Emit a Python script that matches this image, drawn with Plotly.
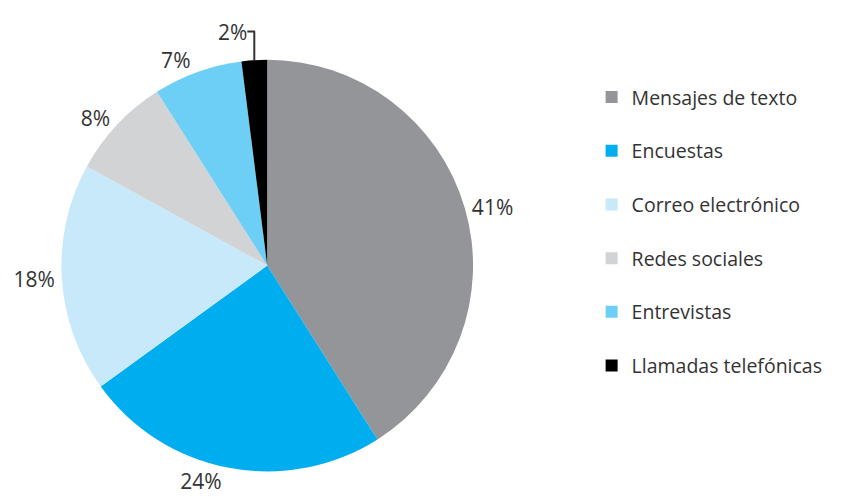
import plotly.graph_objects as go

categories = ["Mensajes de texto", "Encuestas", "Correo electrónico",
              "Redes sociales", "Entrevistas", "Llamadas telefónicas"]
percentages = [41, 24, 18, 8, 7, 2]
colors = ["#939598", "#00aeef", "#c8e9fa", "#d1d3d4", "#6dcff6", "#000000"]

# extra blank line gives the loose legend spacing of the original
legend_labels = [c + "<br> " for c in categories]

fig = go.Figure(
    data=go.Pie(
        labels=legend_labels,
        values=percentages,
        sort=False,
        direction="clockwise",
        rotation=0,
        marker=dict(colors=colors, line=dict(width=0)),
        texttemplate="%{value}%",
        textposition="outside",
        textfont=dict(size=21, color="#333333"),
        domain=dict(x=[0.034, 0.527], y=[0.045, 0.97]),
        hovertemplate="%{label}: %{value}%<extra></extra>",
    ),
    layout=go.Layout(
        width=860,
        height=497,
        margin=dict(l=0, r=0, t=0, b=0),
        paper_bgcolor="white",
        font=dict(family="Open Sans", size=18, color="#333333"),
        showlegend=True,
        legend=dict(
            x=0.669, y=0.921, xanchor="left", yanchor="top",
            valign="top",
            font=dict(size=19.5, color="#333333"),
            itemclick=False,
        ),
    ),
)

fig.write_html("out.html")
